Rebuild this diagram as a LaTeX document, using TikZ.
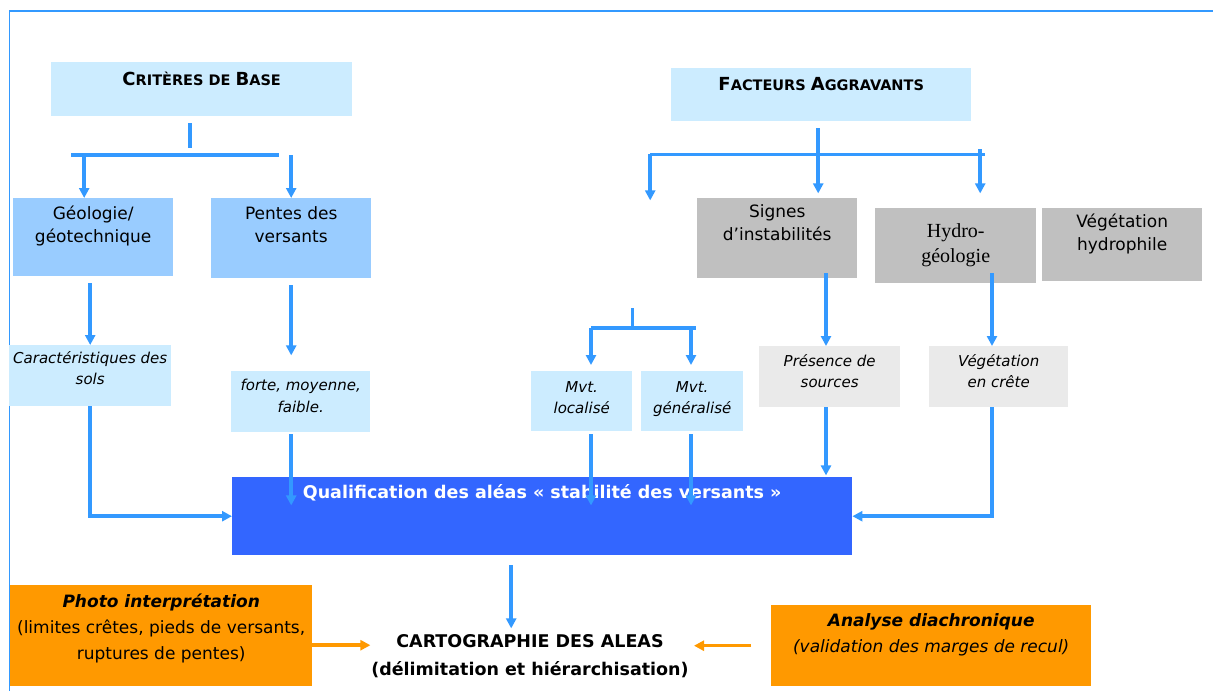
\documentclass[tikz,border=0pt]{standalone}
\usepackage{fontspec}
\setmainfont{DejaVu Sans}
\newfontfamily\hydrofont{Liberation Serif}
\usepackage{tikz}
\usetikzlibrary{shapes,arrows.meta}
\definecolor{cbase}{HTML}{CCECFF}
\definecolor{cgeo}{HTML}{99CCFF}
\definecolor{cgris}{HTML}{C0C0C0}
\definecolor{cgrisc}{HTML}{EAEAEA}
\definecolor{cqual}{HTML}{3366FF}
\definecolor{corange}{HTML}{FF9900}
\definecolor{cfleche}{HTML}{3399FF}
\newcommand{\bigsc}[2]{{\fontsize{18}{20}\selectfont #1}{\fontsize{14.5}{20}\selectfont #2}}
\tikzstyle{boite} = [rectangle, inner sep=0pt, anchor=north west]
\tikzstyle{tl} = [anchor=north, align=center, inner sep=0pt]
\tikzstyle{tnorm} = [tl, font=\fontsize{17}{23}\selectfont]
\tikzstyle{tital} = [tl, font=\fontsize{15}{21.5}\selectfont\itshape]
\tikzstyle{tbas} = [tl, font=\fontsize{17}{26}\selectfont]
\tikzstyle{line} = [draw=cfleche, line width=3.5pt]
\tikzstyle{arr} = [line, -{Triangle[length=10pt,width=10pt]}]
\tikzstyle{oarr} = [draw=corange, line width=3.5pt, -{Triangle[length=10pt,width=10pt]}]

\begin{document}
\begin{tikzpicture}[x=1pt, y=-1pt]
			\useasboundingbox (0,0) rectangle (1213,691);
			\path [draw=cfleche, line width=2pt] (9,11) -- (1213,11);
			\path [draw=cfleche, line width=1pt] (9.5,11) -- (9.5,691);

			% criteres de base
			\node [boite, fill=cbase, minimum width=301, minimum height=54, label={[tl, yshift=-10pt, font=\bfseries]north:{\bigsc{C}{RITÈRES DE }\bigsc{B}{ASE}}}] (base) at (51,62) {};
			\node [boite, fill=cgeo, minimum width=160, minimum height=78, label={[tnorm, yshift=-8pt]north:{Géologie/\\géotechnique}}] (geo) at (13,198) {};
			\node [boite, fill=cgeo, minimum width=160, minimum height=80, label={[tnorm, yshift=-8pt]north:{Pentes des\\versants}}] (pentes) at (211,198) {};
			\node [boite, fill=cbase, minimum width=162, minimum height=61, label={[tital, yshift=-6pt]north:{Caractéristiques des\\sols}}] (carac) at (9,345) {};
			\node [boite, fill=cbase, minimum width=139, minimum height=61, label={[tital, yshift=-8pt]north:{forte, moyenne,\\faible.}}] (forte) at (231,371) {};

			% facteurs aggravants
			\node [boite, fill=cbase, minimum width=300, minimum height=53, label={[tl, yshift=-9pt, font=\bfseries]north:{\bigsc{F}{ACTEURS }\bigsc{A}{GGRAVANTS}}}] (fact) at (671,68) {};
			\node [boite, fill=cgris, minimum width=160, minimum height=80, label={[tnorm, yshift=-6pt]north:{Signes\\d’instabilités}}] (signes) at (697,198) {};
			\node [boite, fill=cgris, minimum width=161, minimum height=75, label={[tl, yshift=-15pt, font=\fontsize{20}{25}\selectfont\hydrofont]north:{Hydro-\\géologie}}] (hydro) at (875,208) {};
			\node [boite, fill=cgris, minimum width=160, minimum height=73, label={[tnorm, yshift=-6pt]north:{Végétation\\hydrophile}}] (veghy) at (1042,208) {};
			\node [boite, fill=cbase, minimum width=101, minimum height=60, label={[tital, yshift=-10pt]north:{Mvt.\\localisé}}] (loc) at (531,371) {};
			\node [boite, fill=cbase, minimum width=102, minimum height=60, label={[tital, yshift=-10pt]north:{Mvt.\\généralisé}}] (gen) at (641,371) {};
			\node [boite, fill=cgrisc, minimum width=141, minimum height=61, label={[tital, yshift=-8pt]north:{Présence de\\sources}}] (pres) at (759,346) {};
			\node [boite, fill=cgrisc, minimum width=139, minimum height=61, label={[tital, yshift=-8pt]north:{Végétation\\en crête}}] (crete) at (929,346) {};

			% qualification et cartographie
			\node [boite, fill=cqual, minimum width=620, minimum height=78, label={[tl, yshift=-7pt, text=white, font=\fontsize{17.5}{21}\selectfont\bfseries]north:{Qualification des aléas « stabilité des versants »}}] (qual) at (232,477) {};
			\node [boite, fill=corange, minimum width=302, minimum height=101, label={[tbas, yshift=-9pt]north:{\textbf{\textit{Photo interprétation}}\\(limites crêtes, pieds de versants,\\ruptures de pentes)}}] (photo) at (10,585) {};
			\node [boite, fill=corange, minimum width=320, minimum height=81, label={[tbas, yshift=-8pt]north:{\textbf{\textit{Analyse diachronique}}\\\textit{(validation des marges de recul)}}}] (analyse) at (771,605) {};
			\node [align=center, font=\fontsize{17.5}{28}\selectfont\bfseries] (carto) at (530,656) {CARTOGRAPHIE DES ALEAS\\(délimitation et hiérarchisation)};

			\coordinate (xs) at (826,0);
			\coordinate (xh) at (992,0);
			\coordinate (xl) at (591,0);
			\coordinate (xg) at (691,0);

			\path [line] (base.south) ++(-11.5,7) -- ++(0,25);
			\path [line] (geo.north) ++(-22,-43) -- ++(208,0);
			\path [arr] (geo.north) ++(-9,-43) -- ++(0,43);
			\path [arr] (pentes.north) ++(0,-43) -- (pentes.north);
			\path [arr] (carac.north |- geo.south) ++(0,7) -- (carac.north);
			\path [arr] (pentes.south) ++(0,7) -- ++(0,70);
			\path [arr] (carac.south) |- (qual.west);
			\path [arr] (pentes.south |- forte.south) ++(0,2) -- ++(0,71);

			\path [arr] (fact.south) ++(-3,7) -- ++(0,65);
			\path [line] (fact.south) ++(-171,33) -- ++(335,0);
			\path [arr] (fact.south) ++(-171,33) -- ++(0,46);
			\path [arr] (fact.south) ++(159,28) -- ++(0,44);
			\path [arr] (xs |- signes.south) ++(0,-5) -- (xs |- pres.north);
			\path [arr] (xh |- hydro.south) ++(0,-10) -- (xh |- crete.north);
			\path [arr] (xs |- pres.south) -- ++(0,68);
			\path [arr] (xh |- crete.south) |- (qual.east);

			\path [line] (loc.north east) ++(0,-63) -- ++(0,20);
			\path [line] (xl |- loc.north) ++(0,-43) -- ++(105,0);
			\path [arr] (xl |- loc.north) ++(0,-43) -- ++(0,37);
			\path [arr] (xg |- gen.north) ++(0,-43) -- ++(0,37);
			\path [arr] (xl |- loc.south) ++(0,3) -- ++(0,71);
			\path [arr] (xg |- gen.south) ++(0,3) -- ++(0,71);

			\path [arr] (qual.south) ++(-31,10) -- ++(0,63);
			\path [oarr] (photo.east) ++(0,9.5) -- ++(58,0);
			\path [oarr] (analyse.west) ++(-20,0) -- ++(-57,0);
		\end{tikzpicture}
\end{document}
